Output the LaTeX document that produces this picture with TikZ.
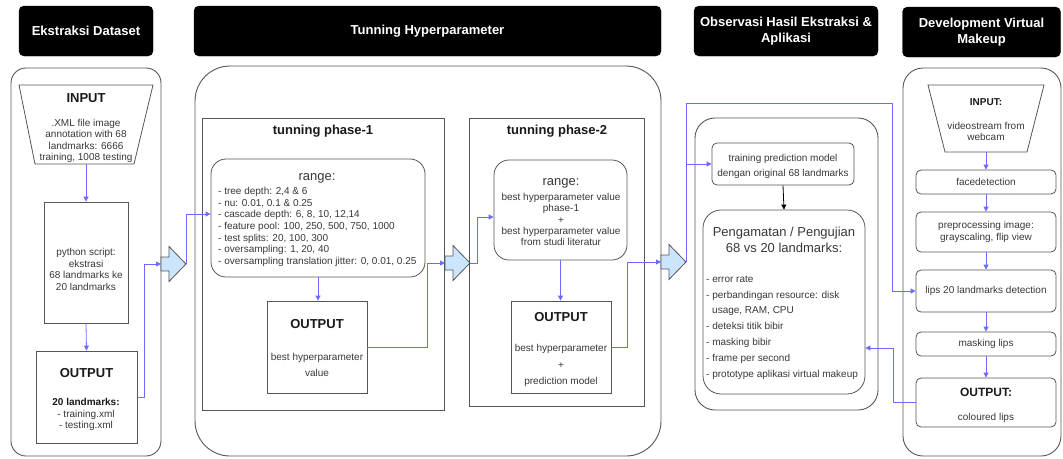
\documentclass[tikz,border=0pt]{standalone}
\usepackage{fontspec}
\setmainfont{Liberation Sans}
\usetikzlibrary{arrows.meta}
\definecolor{txtgray}{HTML}{383838}
\definecolor{linegray}{HTML}{555555}
\definecolor{flowblue}{HTML}{6B6BFF}
\definecolor{arrowfill}{HTML}{CCE5FF}

\begin{document}
\begin{tikzpicture}[x=1pt,y=-1pt,
  hdr/.style={fill=black, draw=black, rounded corners=5pt, text=white, inner sep=0,
    align=center, font=\bfseries\fontsize{13}{15.5}\selectfont},
  frame/.style={draw=linegray, line width=0.9pt, inner sep=0},
  box/.style={draw=linegray, line width=0.8pt, fill=white, inner sep=0},
  rbox/.style={box, rounded corners=5pt},
  trap/.style={draw=linegray, line width=0.8pt, fill=white, line join=miter},
  txt/.style={text=txtgray, inner sep=0, align=center, font=\fontsize{10}{11.6}\selectfont},
  ttl/.style={text=black!90, inner sep=0, font=\bfseries\fontsize{13}{15}\selectfont},
  conn/.style={draw=flowblue, line width=0.8pt, -{Triangle[length=5pt,width=5pt]}},
  barrow/.style={draw=linegray, fill=arrowfill, line width=0.8pt, line join=miter}]

\useasboundingbox (0,0) rectangle (1063,458);

% ---------- stage headers ----------
\node[hdr, minimum width=134pt, minimum height=50pt] (h1) at (86,31) {Ekstraksi Dataset};
\node[hdr, minimum width=467pt, minimum height=50pt] (h2) at (427.5,31) {Tunning Hyperparameter};
\node[hdr, minimum width=184pt, minimum height=50pt] (h3) at (786,31) {Observasi Hasil Ekstraksi \&\\Aplikasi};
\node[hdr, minimum width=158pt, minimum height=50pt] (h4) at (981.5,32) {Development Virtual\\Makeup};

% ---------- stage frames ----------
\node[frame, rounded corners=15pt, minimum width=150pt, minimum height=388pt] (o1) at (86,262) {};
\node[frame, rounded corners=35pt, minimum width=466pt, minimum height=390pt] (o2) at (428,261) {};
\node[frame, rounded corners=20pt, minimum width=183pt, minimum height=292pt] (o3) at (786.5,264) {};
\node[frame, rounded corners=20pt, minimum width=158pt, minimum height=388pt] (o4) at (982,262) {};

% ---------- Ekstraksi Dataset ----------
\draw[trap] (19,85) -- (153,85) -- (134,164) -- (35,164) -- cycle;
\coordinate (inL) at (86,164);
\node[ttl] (inLt) at (86,98) {INPUT};
\node[txt] (inLd) at (86,141) {.XML file image\\annotation with 68\\landmarks: 6666\\training, 1008 testing};

\node[box, minimum width=84pt, minimum height=121pt] (py) at (86,262.5) {};
\node[txt] (pyd) at (86,269.5) {python script:\\ekstrasi\\68 landmarks ke\\20 landmarks};

\node[box, minimum width=101pt, minimum height=92pt] (outL) at (86.5,397) {};
\node[ttl] (outLt) at (86.5,373) {OUTPUT};
\node[txt, font=\fontsize{10}{11.5}\selectfont] (outLd) at (86,414.5)
  {{\color{black!90}\bfseries 20 landmarks:}\\- training.xml\\- testing.xml};

% ---------- Tunning Hyperparameter: phase 1 ----------
\node[box, minimum width=242pt, minimum height=292pt] (p1) at (323,264) {};
\node[ttl] (p1t) at (323,131) {tunning phase-1};
\node[rbox, rounded corners=15pt, minimum width=214pt, minimum height=118pt] (r1) at (318,218) {};
\node[txt, font=\fontsize{13}{15}\selectfont] (r1t) at (317,178) {range:};
\node[txt, align=left, anchor=west, font=\fontsize{10}{11.7}\selectfont] (r1d) at (218,227)
  {- tree depth: 2,4 \& 6\\- nu: 0.01, 0.1 \& 0.25\\- cascade depth: 6, 8, 10, 12,14\\
   - feature pool: 100, 250, 500, 750, 1000\\- test splits: 20, 100, 300\\
   - oversampling: 1, 20, 40\\- oversampling translation jitter: 0, 0.01, 0.25};
\node[box, minimum width=100pt, minimum height=92pt] (out1) at (317,347) {};
\node[ttl] (out1t) at (317,324) {OUTPUT};
\node[txt, font=\fontsize{10}{16}\selectfont] (out1d) at (317,365) {best hyperparameter\\value};

% ---------- Tunning Hyperparameter: phase 2 ----------
\node[box, minimum width=175pt, minimum height=288pt] (p2) at (556.5,262) {};
\node[ttl] (p2t) at (557,131) {tunning phase-2};
\node[rbox, rounded corners=15pt, minimum width=133pt, minimum height=100pt] (r2) at (560.5,210) {};
\node[txt, font=\fontsize{13}{15}\selectfont] (r2t) at (561,183) {range:};
\node[txt, font=\fontsize{10}{11.3}\selectfont] (r2d) at (561,219.5)
  {best hyperparameter value\\phase-1\\+\\best hyperparameter value\\from studi literatur};
\node[box, minimum width=100pt, minimum height=92pt] (out2) at (561,347) {};
\node[ttl] (out2t) at (561,317) {OUTPUT};
\node[txt, font=\fontsize{10}{16.5}\selectfont] (out2d) at (561,365.5) {best hyperparameter\\+\\prediction model};

% ---------- Observasi Hasil Ekstraksi & Aplikasi ----------
\node[rbox, minimum width=142pt, minimum height=42pt] (tr) at (783,164) {};
\node[txt, font=\fontsize{10}{15}\selectfont] (trd) at (783,166.5) {training prediction model\\dengan original 68 landmarks};
\node[rbox, rounded corners=18pt, minimum width=162pt, minimum height=184pt] (peng) at (784,302) {};
\node[txt, font=\fontsize{13}{16}\selectfont] (pengt) at (784,240) {Pengamatan / Pengujian\\68 vs 20 landmarks:};
\node[txt, align=left, anchor=west, font=\fontsize{10}{15.8}\selectfont] (pengd) at (706,327.5)
  {- error rate\\- perbandingan resource: disk\\\hspace*{6pt}usage, RAM, CPU\\- deteksi titik bibir\\
   - masking bibir\\- frame per second\\- prototype aplikasi virtual makeup};

% ---------- Development Virtual Makeup ----------
\draw[trap] (928,85) -- (1044,85) -- (1027,152) -- (945,152) -- cycle;
\coordinate (rIn) at (986,152);
\node[ttl, font=\bfseries\fontsize{10}{12}\selectfont] (rInt) at (986,102) {INPUT:};
\node[txt, font=\fontsize{10}{11}\selectfont] (rInd) at (986,131.5) {videostream from\\webcam};
\node[rbox, txt, draw=linegray, minimum width=140pt, minimum height=24pt] (face) at (986,182) {facedetection};
\node[rbox, txt, draw=linegray, minimum width=140pt, minimum height=40pt] (pre) at (986,232) {preprocessing image:\\grayscaling, flip view};
\node[rbox, txt, draw=linegray, minimum width=140pt, minimum height=42pt] (lips) at (986,291) {lips 20 landmarks detection};
\node[rbox, txt, draw=linegray, minimum width=140pt, minimum height=24pt] (mask) at (986,344) {masking lips};
\node[rbox, minimum width=140pt, minimum height=49pt] (rOut) at (986,402.5) {};
\node[ttl, font=\bfseries\fontsize{12}{14}\selectfont] (rOutt) at (986,392) {OUTPUT:};
\node[txt] (rOutd) at (986,418) {coloured lips};

% ---------- block arrows between stages ----------
\foreach \n/\x/\y in {1/161/264, 2/445/263, 3/661/262}{
  \draw[barrow] (\x,\y-7) -- (\x+8,\y-7) -- (\x+8,\y-17.5) -- (\x+25,\y)
     -- (\x+8,\y+17.5) -- (\x+8,\y+7) -- (\x,\y+7) -- cycle;
  \coordinate (ba\n t) at (\x,\y);
  \coordinate (ba\n h) at (\x+25,\y);
}

% ---------- connectors ----------
\draw[conn] (inL) -- (py.north);
\draw[conn] (py.south) -- (outL.north);
\draw[conn] (outL.east) -- ++(7,0) |- (ba1t);
\draw[conn] (ba1h) |- ([yshift=4pt]r1.west);
\draw[conn] (r1.south) -- (r1.south |- out1.north);
\draw[conn] (out1.east) -- ++(60,0) |- (ba2t);
\draw[conn] (ba2h) -- ++(7,0) |- ([yshift=-7pt]r2.west);
\draw[conn] (r2.south) -- (r2.south |- out2.north);
\draw[conn] (out2.east) -- ++(16,0) |- (ba3t);
\draw[conn] (ba3h) |- (tr.west);
\draw[conn] (ba3h) -- ++(0,-159) -| ([xshift=-23pt]lips.west) -- (lips.west);
\draw[conn, draw=black] (tr.south) -- (peng.north);
\draw[conn] (rIn) -- (face.north);
\draw[conn] (face.south) -- (pre.north);
\draw[conn] (pre.south) -- (lips.north);
\draw[conn] (lips.south) -- (mask.north);
\draw[conn] (mask.south) -- (rOut.north);
\draw[conn] (rOut.west) -- ++(-22,0) |- ([yshift=-46pt]peng.east);

\end{tikzpicture}
\end{document}
